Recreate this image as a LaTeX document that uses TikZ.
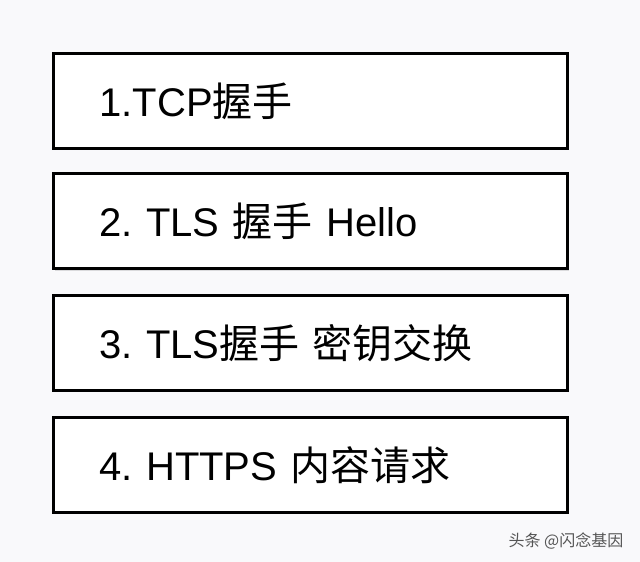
\documentclass[tikz,border=0pt]{standalone}
\usepackage{fontspec}
\usetikzlibrary{shadows}
\setmainfont{Liberation Sans}
\newfontfamily\cjk{Noto Sans CJK SC}
\definecolor{bg}{HTML}{F9F9FB}
\definecolor{wm}{HTML}{555555}
\frenchspacing
\begin{document}
\begin{tikzpicture}[x=1pt,y=1pt,
  box/.style={draw=black, line width=3pt, fill=white, minimum width=514pt, minimum height=95pt,
    text width=421pt, align=left, inner xsep=45pt, font=\fontsize{40}{48}\selectfont,
    drop shadow={shadow xshift=2pt, shadow yshift=-2pt, opacity=0.25}},
  mark label/.style={text=wm, font=\fontsize{16}{18}\selectfont\cjk}]
\useasboundingbox (0,0) rectangle (640,562);
\fill[bg] (0,0) rectangle (640,562);
\node[box] (b1) at (310,461) {1.TCP{\cjk 握手}};
\node[box] (b2) at (310,340.5) {2. TLS {\cjk 握手} Hello};
\node[box] (b3) at (310,219) {3. TLS{\cjk 握手 密钥交换}};
\node[box] (b4) at (310,97) {4. HTTPS {\cjk 内容请求}};
\node[mark label] (wm) at (566,21) {头条 @闪念基因};
\end{tikzpicture}
\end{document}
